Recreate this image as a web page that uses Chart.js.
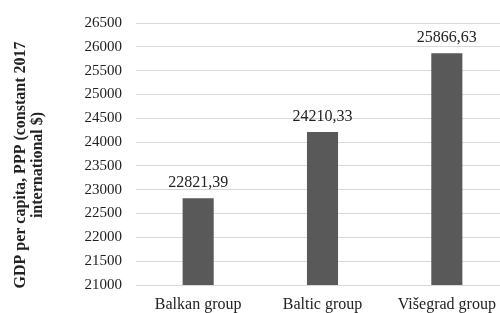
<!DOCTYPE html>
<html>
<head>
<meta charset="utf-8">
<script src="https://cdn.jsdelivr.net/npm/chart.js@4.4.0/dist/chart.umd.min.js"></script>
<style>
  html, body { margin: 0; padding: 0; background: #fff; overflow: hidden; }
  #wrap { width: 512px; height: 313px; }
</style>
</head>
<body>
<div id="wrap"><canvas id="chart" width="512" height="313"></canvas></div>
<script>
// values
var groups = ['Balkan group', 'Baltic group', 'Višegrad group'];
var gdp = [22821.39, 24210.33, 25866.63];
var yTitle = ['GDP per capita, PPP (constant 2017', 'international $)'];

var serif = '"Liberation Serif", "Times New Roman", serif';

// value labels above the bars, decimal comma like the original
var barLabels = {
    id: 'barLabels',
    afterDatasetsDraw: function(chart) {
        var ctx = chart.ctx;
        var meta = chart.getDatasetMeta(0);
        ctx.save();
        ctx.font = '16px ' + serif;
        ctx.fillStyle = '#222';
        ctx.textAlign = 'center';
        ctx.textBaseline = 'alphabetic';
        meta.data.forEach(function(bar, i) {
            ctx.fillText(gdp[i].toFixed(2).replace('.', ','), bar.x, bar.y - 11);
        });
        ctx.restore();
    }
};

// two-line bold y title, rotated
var axisTitle = {
    id: 'axisTitle',
    afterDraw: function(chart) {
        var ctx = chart.ctx;
        ctx.save();
        ctx.translate(0, 165);
        ctx.rotate(-Math.PI / 2);
        ctx.font = 'bold 16px ' + serif;
        ctx.fillStyle = '#222';
        ctx.textAlign = 'center';
        ctx.textBaseline = 'middle';
        ctx.fillText(yTitle[0], 0, 21);
        ctx.fillText(yTitle[1], 0, 38);
        ctx.restore();
    }
};

new Chart(document.getElementById('chart'), {
    type: 'bar',
    data: {
        labels: groups,
        datasets: [{
            data: gdp,
            backgroundColor: '#595959',
            borderWidth: 0,
            barPercentage: 0.25,
            categoryPercentage: 1
        }]
    },
    options: {
        responsive: false,
        animation: false,
        layout: { padding: { top: 23, right: 3, bottom: 0, left: 0 } },
        plugins: {
            legend: { display: false },
            tooltip: { enabled: false }
        },
        scales: {
            x: {
                grid: { display: false, drawTicks: false },
                border: { display: true, color: '#d9d9d9', width: 1 },
                ticks: {
                    color: '#222',
                    font: { family: serif, size: 16 },
                    padding: 10
                },
                afterFit: function(scale) { scale.height = 28; }
            },
            y: {
                min: 21000,
                max: 26500,
                grid: { color: '#d9d9d9', lineWidth: 1, drawTicks: false },
                border: { display: false },
                ticks: {
                    stepSize: 500,
                    color: '#222',
                    font: { family: serif, size: 15 },
                    padding: 14,
                    callback: function(v) { return String(v); }
                },
                afterFit: function(scale) { scale.width = 136; }
            }
        }
    },
    plugins: [barLabels, axisTitle]
});
</script>
</body>
</html>
